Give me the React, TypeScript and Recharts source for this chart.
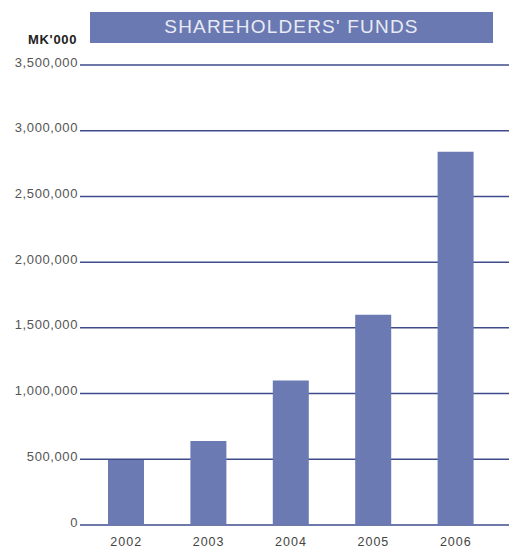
import React from "react";
import { BarChart, Bar, XAxis, YAxis, CartesianGrid } from "recharts";

const years = ["2002", "2003", "2004", "2005", "2006"];
const funds = [495000, 640000, 1100000, 1600000, 2840000];
const yTicks = [0, 500000, 1000000, 1500000, 2000000, 2500000, 3000000, 3500000];

const data = years.map((year, i) => ({ year, funds: funds[i] }));

function formatTick(v) {
    return v.toLocaleString("en-US");
}

export default function App() {
    return (
        <div style={{ position: "fixed", left: 0, top: 0, width: 509, height: 550, background: "#fff", fontFamily: "'Liberation Sans', Arial, sans-serif" }}>
            <div
                style={{
                    position: "absolute",
                    left: 90,
                    top: 12,
                    width: 403,
                    height: 31,
                    background: "#6a79b2",
                    color: "#e8ebf5",
                    fontSize: 19,
                    letterSpacing: 1.2,
                    textAlign: "center",
                    lineHeight: "29px",
                }}
            >
                SHAREHOLDERS' FUNDS
            </div>
            <div style={{ position: "absolute", left: 28, top: 32, fontSize: 13, lineHeight: "16px", letterSpacing: 0.7, fontWeight: "bold", color: "#222" }}>
                MK'000
            </div>
            <BarChart
                width={509}
                height={550}
                data={data}
                margin={{ top: 65, right: 0, bottom: 0, left: 0 }}
                barSize={36}
            >
                <CartesianGrid vertical={false} stroke="#3e4c8c" strokeWidth={1.5} />
                <XAxis
                    dataKey="year"
                    height={25}
                    axisLine={false}
                    tickLine={false}
                    tickSize={0}
                    tickMargin={12}
                    padding={{ left: 5, right: 12 }}
                    tick={{ fontSize: 12.5, fill: "#444", letterSpacing: 1 }}
                />
                <YAxis
                    width={80}
                    domain={[0, 3500000]}
                    ticks={yTicks}
                    axisLine={false}
                    tickLine={false}
                    tickSize={0}
                    tickMargin={2}
                    tickFormatter={formatTick}
                    tick={{ fontSize: 13, fill: "#555", dy: -3, letterSpacing: 0.6 }}
                />
                <Bar dataKey="funds" fill="#6c7ab4" isAnimationActive={false} />
            </BarChart>
        </div>
    );
}
